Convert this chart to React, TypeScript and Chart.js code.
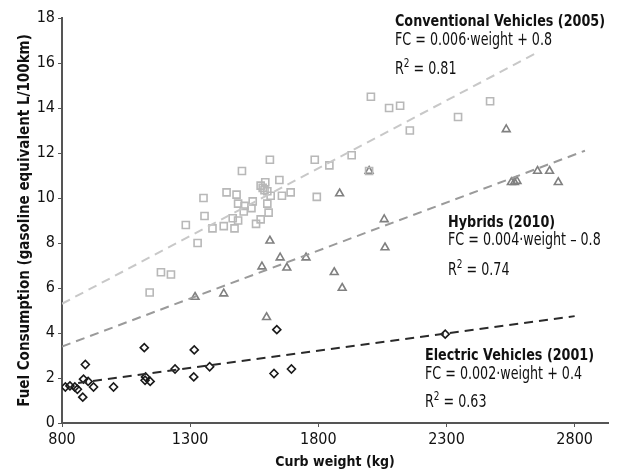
import React, { useEffect, useRef } from "react";
import { Chart, registerables } from "chart.js";

Chart.register(...registerables);

const FONT = "'DejaVu Sans Condensed', 'DejaVu Sans', sans-serif";

// Conventional vehicles (2005): curb weight (kg), fuel consumption (L/100km)
const convWeight = [1142, 1186, 1225, 1283, 1329, 1352, 1356, 1387, 1431, 1473, 1442, 1481, 1466, 1487, 1487, 1509, 1512, 1539, 1544, 1502, 1557, 1575, 1606, 1601, 1575, 1583, 1590, 1601, 1614, 1593, 1611, 1648, 1658, 1692, 1786, 1794, 1843, 1930, 1998, 2005, 2076, 2119, 2157, 2345, 2470];
const convFC = [5.8, 6.7, 6.6, 8.8, 8.0, 10.0, 9.2, 8.65, 8.75, 8.65, 10.25, 10.15, 9.1, 9.0, 9.75, 9.4, 9.65, 9.55, 9.85, 11.2, 8.85, 9.05, 9.35, 9.75, 10.55, 10.45, 10.35, 10.3, 10.1, 10.7, 11.7, 10.8, 10.1, 10.25, 11.7, 10.05, 11.45, 11.9, 11.2, 14.5, 14.0, 14.1, 13.0, 13.6, 14.3];

// Hybrids (2010)
const hybWeight = [1319, 1431, 1580, 1598, 1611, 1651, 1677, 1752, 1862, 1883, 1893, 1998, 2057, 2060, 2533, 2553, 2565, 2575, 2655, 2702, 2736];
const hybFC = [5.6, 5.75, 6.95, 4.7, 8.1, 7.35, 6.9, 7.35, 6.7, 10.2, 6.0, 11.2, 9.05, 7.8, 13.05, 10.7, 10.7, 10.75, 11.2, 11.2, 10.7];

// Electric vehicles (2001)
const evWeight = [813, 831, 850, 860, 881, 891, 884, 902, 923, 1001, 1121, 1126, 1124, 1144, 1241, 1314, 1316, 1376, 1638, 1627, 1695, 2295];
const evFC = [1.6, 1.65, 1.6, 1.5, 1.15, 2.6, 1.95, 1.85, 1.6, 1.6, 3.35, 2.05, 1.9, 1.85, 2.4, 2.05, 3.25, 2.5, 4.15, 2.2, 2.4, 3.95];

// Trend line end points (weight, FC)
const convTrendW = [800, 2660];
const convTrendFC = [5.3, 16.5];
const hybTrendW = [800, 2840];
const hybTrendFC = [3.4, 12.1];
const evTrendW = [863, 2800];
const evTrendFC = [1.78, 4.75];

const xTicks = [800, 1300, 1800, 2300, 2800];
const yTicks = [0, 2, 4, 6, 8, 10, 12, 14, 16, 18];

const labels = [
  { title: "Conventional Vehicles (2005)", eq: "FC = 0.006·weight + 0.8", r2: "0.81" },
  { title: "Hybrids (2010)", eq: "FC = 0.004·weight – 0.8", r2: "0.74" },
  { title: "Electric Vehicles (2001)", eq: "FC = 0.002·weight + 0.4", r2: "0.63" },
];

const pts = (xs: number[], ys: number[]) => xs.map((x, i) => ({ x, y: ys[i] }));

function squeezed(ctx: CanvasRenderingContext2D, text: string, x: number, y: number, sx: number) {
  ctx.save();
  ctx.translate(x, y);
  ctx.scale(sx, 1);
  ctx.fillText(text, 0, 0);
  ctx.restore();
  return ctx.measureText(text).width * sx;
}

const annotationPlugin = {
  id: "annotations",
  afterDatasetsDraw(chart: any) {
    const ctx: CanvasRenderingContext2D = chart.ctx;
    const pos = [
      { x: 395, y: [26, 45, 74] },
      { x: 448, y: [227, 245, 275] },
      { x: 425, y: [360, 379, 407] },
    ];
    ctx.save();
    ctx.fillStyle = "#111";
    ctx.textBaseline = "alphabetic";
    ctx.textAlign = "left";
    const boldFont = `bold 16px ${FONT}`;
    const regFont = `17px ${FONT}`;
    ctx.font = boldFont;
    const fb = 210 / ctx.measureText(labels[0].title).width;
    ctx.font = regFont;
    const fr = 157 / ctx.measureText(labels[0].eq).width;
    labels.forEach((l, i) => {
      const p = pos[i];
      ctx.font = boldFont;
      squeezed(ctx, l.title, p.x, p.y[0], fb);
      ctx.font = regFont;
      squeezed(ctx, l.eq, p.x, p.y[1], fr);
      let cx = p.x + squeezed(ctx, "R", p.x, p.y[2], fr);
      ctx.font = `12px ${FONT}`;
      cx += squeezed(ctx, "2", cx, p.y[2] - 7, fr);
      ctx.font = regFont;
      squeezed(ctx, " = " + l.r2, cx, p.y[2], fr);
    });
    ctx.restore();
  },
};

export default function App() {
  const ref = useRef<HTMLCanvasElement | null>(null);
  useEffect(() => {
    if (!ref.current) return;
    const chart = new Chart(ref.current, {
      type: "scatter",
      data: {
        datasets: [
          {
            type: "line",
            data: pts(convTrendW, convTrendFC),
            borderColor: "#c8c8c8",
            borderWidth: 2,
            borderDash: [9, 6],
            pointRadius: 0,
            fill: false,
          } as any,
          {
            type: "line",
            data: pts(hybTrendW, hybTrendFC),
            borderColor: "#9a9a9a",
            borderWidth: 2,
            borderDash: [9, 6],
            pointRadius: 0,
            fill: false,
          } as any,
          {
            type: "line",
            data: pts(evTrendW, evTrendFC),
            borderColor: "#2a2a2a",
            borderWidth: 2,
            borderDash: [9, 6],
            pointRadius: 0,
            fill: false,
          } as any,
          {
            data: pts(convWeight, convFC),
            pointStyle: "rect",
            pointRadius: 5,
            pointBorderColor: "#b8b8b8",
            pointBackgroundColor: "rgba(255,255,255,0)",
            pointBorderWidth: 1.6,
          },
          {
            data: pts(hybWeight, hybFC),
            pointStyle: "triangle",
            pointRadius: 4.5,
            pointBorderColor: "#808080",
            pointBackgroundColor: "rgba(255,255,255,0)",
            pointBorderWidth: 1.6,
          },
          {
            data: pts(evWeight, evFC),
            pointStyle: "rectRot",
            pointRadius: 4,
            pointBorderColor: "#1a1a1a",
            pointBackgroundColor: "rgba(255,255,255,0)",
            pointBorderWidth: 1.6,
          },
        ],
      },
      options: {
        responsive: false,
        animation: false,
        layout: { padding: { top: 18, right: 12, left: 0, bottom: 0 } },
        plugins: { legend: { display: false }, tooltip: { enabled: false } },
        scales: {
          x: {
            type: "linear",
            min: 800,
            max: 2930,
            afterBuildTicks: (s: any) => {
              s.ticks = xTicks.map((v) => ({ value: v }));
            },
            afterFit: (s: any) => {
              s.height = 49;
            },
            grid: { drawOnChartArea: false, drawTicks: true, tickLength: 4, color: "#555" },
            border: { display: true, color: "#555", width: 2 },
            ticks: {
              color: "#111",
              font: { family: FONT, size: 16 },
              padding: 3,
              maxRotation: 0,
              callback: (v: any) => String(v),
            },
            title: {
              display: true,
              text: "Curb weight (kg)",
              color: "#111",
              font: { family: FONT, size: 14, weight: "bold" },
              padding: { top: 0, bottom: 1 },
            },
          },
          y: {
            type: "linear",
            min: 0,
            max: 18,
            afterBuildTicks: (s: any) => {
              s.ticks = yTicks.map((v) => ({ value: v }));
            },
            afterFit: (s: any) => {
              s.width = 62;
            },
            grid: { drawOnChartArea: false, drawTicks: true, tickLength: 4, color: "#555" },
            border: { display: true, color: "#555", width: 2 },
            ticks: { color: "#111", font: { family: FONT, size: 16 }, padding: 3 },
            title: {
              display: true,
              text: "Fuel Consumption (gasoline equivalent L/100km)",
              color: "#111",
              font: { family: FONT, size: 15, weight: "bold" },
              padding: { top: 16, bottom: 0 },
            },
          },
        },
      },
      plugins: [annotationPlugin],
    });
    return () => chart.destroy();
  }, []);
  return (
    <div style={{ position: "fixed", left: 0, top: 0, width: 620, height: 472, background: "#fff" }}>
      <canvas ref={ref} width={620} height={472} style={{ width: 620, height: 472 }} />
    </div>
  );
}
